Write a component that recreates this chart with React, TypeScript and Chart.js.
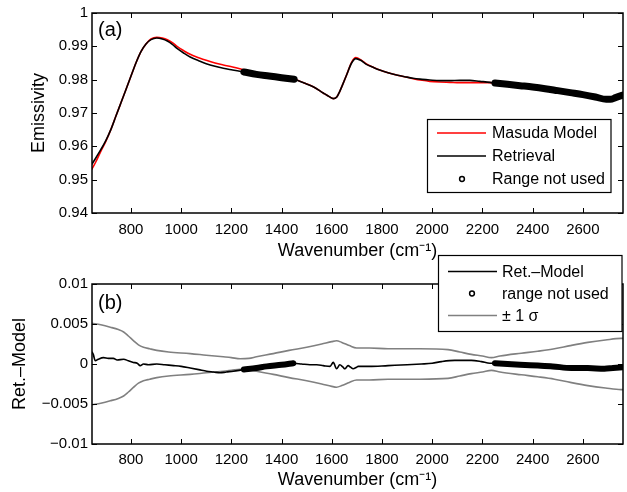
import React, { useEffect, useRef } from 'react';
import { Chart, registerables } from 'chart.js';

Chart.register(...registerables);

const FONT = '"Liberation Sans", Arial, Helvetica, sans-serif';

// ---------------- data: panel (a) ----------------
const wavenumberEmis = [645, 660, 680, 700, 720, 740, 760, 780, 800, 820, 840, 860, 880, 903, 925, 945, 965, 985, 1010, 1036, 1070, 1100, 1135, 1168, 1205, 1250, 1300, 1350, 1400, 1450, 1490, 1526, 1566, 1590, 1606, 1620, 1632, 1645, 1659, 1679, 1696, 1715, 1738, 1765, 1791, 1824, 1858, 1890, 1924, 1960, 1990, 2030, 2070, 2110, 2150, 2190, 2230, 2250, 2300, 2350, 2400, 2450, 2500, 2550, 2600, 2650, 2693, 2710, 2730, 2760];
const retrieval = [0.9547, 0.9565, 0.959, 0.9617, 0.965, 0.969, 0.973, 0.977, 0.981, 0.985, 0.9884, 0.9907, 0.992, 0.9925, 0.9922, 0.9916, 0.9906, 0.9893, 0.988, 0.9868, 0.9857, 0.9848, 0.984, 0.9834, 0.9829, 0.9823, 0.9816, 0.9811, 0.9806, 0.9801, 0.979, 0.9779, 0.976, 0.9749, 0.9743, 0.9748, 0.9765, 0.9788, 0.9814, 0.985, 0.9863, 0.9858, 0.9846, 0.9837, 0.9829, 0.9821, 0.9814, 0.9809, 0.9804, 0.9801, 0.9799, 0.9797, 0.9797, 0.9798, 0.9798, 0.9795, 0.9792, 0.979, 0.9786, 0.9782, 0.9778, 0.9773, 0.9767, 0.9761, 0.9755, 0.9748, 0.9741, 0.9741, 0.9746, 0.9754];
const masudaModel = [0.9532, 0.9553, 0.9585, 0.9615, 0.965, 0.969, 0.973, 0.977, 0.981, 0.985, 0.9884, 0.9907, 0.9922, 0.9927, 0.9925, 0.992, 0.9911, 0.9899, 0.9887, 0.9876, 0.9866, 0.9858, 0.985, 0.9844, 0.9838, 0.983, 0.9821, 0.9814, 0.9808, 0.9802, 0.979, 0.9779, 0.976, 0.9749, 0.9743, 0.9748, 0.9765, 0.9788, 0.9814, 0.9852, 0.9866, 0.986, 0.9847, 0.9837, 0.9829, 0.9821, 0.9814, 0.9809, 0.9803, 0.9798, 0.9795, 0.9793, 0.9792, 0.9791, 0.9791, 0.9791, 0.9791, 0.979, 0.9786, 0.9782, 0.9778, 0.9773, 0.9767, 0.9761, 0.9755, 0.9748, 0.9741, 0.9741, 0.9746, 0.9754];

// ---------------- data: panel (b) ----------------
const wavenumberDiff = [645, 650, 658, 670, 691, 710, 730, 745, 771, 790, 810, 825, 837, 850, 870, 903, 935, 970, 1000, 1036, 1070, 1102, 1130, 1155, 1180, 1208, 1250, 1300, 1341, 1400, 1447, 1480, 1513, 1540, 1566, 1593, 1606, 1619, 1632, 1645, 1652, 1665, 1675, 1685, 1699, 1705, 1750, 1824, 1900, 1957, 2000, 2037, 2090, 2156, 2196, 2230, 2250, 2300, 2350, 2421, 2480, 2554, 2620, 2686, 2720, 2760];
const retMinusModel = [0.0015, 0.0012, 0.0004, 0.0006, 0.0008, 0.0007, 0.0007, 0.0005, 0.0006, 0.0004, 0.0002, 0.0001, -0.0002, 0.0, -0.0001, 0.0, -0.0001, -0.0002, -0.0003, -0.0005, -0.0007, -0.0009, -0.001, -0.0011, -0.001, -0.0009, -0.0007, -0.0005, -0.0003, -0.0001, 0.0001, 0.0, -0.0001, -0.0001, -0.0002, -0.0003, 0.0002, -0.0006, -0.0001, -0.0004, -0.0006, -0.0002, -0.0004, -0.0006, -0.0004, -0.0003, -0.0003, -0.0002, -0.0001, 0.0, 0.0001, 0.0003, 0.00045, 0.00045, 0.0003, 0.0001, 0.0001, 0.0, -0.0001, -0.0002, -0.0003, -0.0005, -0.0005, -0.0006, -0.0005, -0.0004];

const wavenumberSigma = [645, 680, 718, 750, 771, 790, 811, 830, 850, 875, 903, 950, 1036, 1100, 1168, 1200, 1235, 1270, 1300, 1367, 1430, 1500, 1560, 1600, 1619, 1640, 1670, 1699, 1750, 1824, 1950, 2063, 2110, 2156, 2200, 2236, 2270, 2355, 2420, 2487, 2550, 2620, 2690, 2752, 2760];
const sigmaPlus = [0.0051, 0.0049, 0.0046, 0.0043, 0.004, 0.0035, 0.0029, 0.0024, 0.0021, 0.0019, 0.0017, 0.0015, 0.0013, 0.0011, 0.0009, 0.0008, 0.00065, 0.0007, 0.0009, 0.0013, 0.0017, 0.0021, 0.0025, 0.0028, 0.0029, 0.0027, 0.0023, 0.002, 0.002, 0.0019, 0.0019, 0.0018, 0.0015, 0.0012, 0.001, 0.0008, 0.001, 0.00135, 0.0016, 0.0019, 0.0023, 0.0027, 0.003, 0.0032, 0.0032];
const sigmaMinus = [-0.0051, -0.0049, -0.0046, -0.0043, -0.004, -0.0035, -0.0029, -0.0024, -0.0021, -0.0019, -0.0017, -0.0015, -0.0013, -0.0011, -0.0009, -0.0008, -0.00065, -0.0007, -0.0009, -0.0013, -0.0017, -0.0021, -0.0025, -0.0028, -0.0029, -0.0027, -0.0023, -0.002, -0.002, -0.0019, -0.0019, -0.0018, -0.0015, -0.0012, -0.001, -0.0008, -0.001, -0.00135, -0.0016, -0.0019, -0.0023, -0.0027, -0.003, -0.0032, -0.0032];

// spectral ranges not used in the retrieval
const notUsedRanges = [[1250, 1450], [2250, 2760]];

// ---------------- axes ----------------
const X_MIN = 645;
const X_MAX = 2760;
const xTickValues = [800, 1000, 1200, 1400, 1600, 1800, 2000, 2200, 2400, 2600];
const emisTickValues = [0.94, 0.95, 0.96, 0.97, 0.98, 0.99, 1];
const diffTickValues = [-0.01, -0.005, 0, 0.005, 0.01];

const pts = (xs: number[], ys: number[]) => xs.map((x, i) => ({ x, y: ys[i] }));
const inRange = (xs: number[], ys: number[], r: number[]) =>
  pts(xs, ys).filter((p) => p.x >= r[0] && p.x <= r[1]);

const framePlugin = {
  id: 'matlabFrame',
  afterDatasetsDraw(chart: any, _args: any, opts: any) {
    const { ctx, chartArea: a, scales } = chart;
    const xs = scales.x;
    const ys = scales.y;
    ctx.save();
    ctx.strokeStyle = '#000';
    ctx.lineWidth = 1;
    ctx.beginPath();
    xs.ticks.forEach((t: any) => {
      const px = Math.round(xs.getPixelForValue(t.value)) + 0.5;
      ctx.moveTo(px, a.bottom);
      ctx.lineTo(px, a.bottom - 5);
      ctx.moveTo(px, a.top);
      ctx.lineTo(px, a.top + 5);
    });
    ys.ticks.forEach((t: any) => {
      const py = Math.round(ys.getPixelForValue(t.value)) + 0.5;
      ctx.moveTo(a.left, py);
      ctx.lineTo(a.left + 5, py);
      ctx.moveTo(a.right, py);
      ctx.lineTo(a.right - 5, py);
    });
    ctx.stroke();
    ctx.lineWidth = 1.5;
    ctx.strokeRect(a.left, a.top, a.right - a.left, a.bottom - a.top);

    ctx.fillStyle = '#000';
    ctx.font = `20px ${FONT}`;
    ctx.textBaseline = 'middle';
    ctx.textAlign = 'left';
    ctx.fillText(opts.label, a.left + 6, opts.labelY);

    const L = opts.legend;
    ctx.fillStyle = '#fff';
    ctx.fillRect(L.x, L.y, L.w, L.h);
    ctx.lineWidth = 1.2;
    ctx.strokeStyle = '#000';
    ctx.strokeRect(L.x, L.y, L.w, L.h);
    ctx.font = `16px ${FONT}`;
    L.items.forEach((it: any, i: number) => {
      const y = L.rowY[i];
      if (it.kind === 'line') {
        ctx.strokeStyle = it.color;
        ctx.lineWidth = 1.5;
        ctx.beginPath();
        ctx.moveTo(L.lineX0, y);
        ctx.lineTo(L.lineX1, y);
        ctx.stroke();
      } else {
        ctx.strokeStyle = '#000';
        ctx.lineWidth = 1.5;
        ctx.beginPath();
        ctx.arc(L.markerX, y, 2.4, 0, Math.PI * 2);
        ctx.stroke();
      }
      ctx.fillStyle = '#000';
      ctx.fillText(it.text, L.textX, y + 1);
    });
    ctx.restore();
  },
};

function xScale(height: number, titlePadBottom: number, tickPad: number) {
  return {
    type: 'linear',
    position: 'bottom',
    min: X_MIN,
    max: X_MAX,
    grid: { display: false, drawTicks: false },
    border: { display: false },
    afterBuildTicks: (s: any) => {
      s.ticks = xTickValues.map((v) => ({ value: v }));
    },
    afterFit: (s: any) => {
      s.height = height;
    },
    ticks: {
      autoSkip: false,
      maxRotation: 0,
      padding: tickPad,
      color: '#000',
      font: { family: FONT, size: 15 },
      callback: (v: any) => String(v),
    },
    title: {
      display: true,
      text: 'Wavenumber (cm⁻¹)',
      color: '#000',
      font: { family: FONT, size: 18 },
      padding: { top: 0, bottom: titlePadBottom },
    },
  };
}

function yScale(min: number, max: number, tickValues: number[], title: string, titlePad: number, fmt: (v: number) => string) {
  return {
    type: 'linear',
    position: 'left',
    min,
    max,
    grid: { display: false, drawTicks: false },
    border: { display: false },
    afterBuildTicks: (s: any) => {
      s.ticks = tickValues.map((v) => ({ value: v }));
    },
    afterFit: (s: any) => {
      s.width = 92;
    },
    ticks: {
      autoSkip: false,
      padding: 4,
      color: '#000',
      font: { family: FONT, size: 15 },
      callback: (v: any) => fmt(Number(v)),
    },
    title: {
      display: true,
      text: title,
      color: '#000',
      font: { family: FONT, size: 18 },
      padding: { top: titlePad, bottom: 0 },
    },
  };
}

const lineDs = (label: string, data: any[], color: string, width: number, order: number) => ({
  label,
  data,
  borderColor: color,
  backgroundColor: color,
  borderWidth: width,
  pointRadius: 0,
  fill: false,
  cubicInterpolationMode: 'monotone',
  borderCapStyle: 'round',
  borderJoinStyle: 'round',
  order,
});

export default function App() {
  const topRef = useRef<HTMLCanvasElement>(null);
  const botRef = useRef<HTMLCanvasElement>(null);

  useEffect(() => {
    const fmtEmis = (v: number) => String(Math.round(v * 1000) / 1000);
    const fmtDiff = (v: number) => {
      const r = Math.round(v * 10000) / 10000;
      return r < 0 ? '\u2212' + String(Math.abs(r)) : String(r);
    };

    const topChart = new Chart(topRef.current as HTMLCanvasElement, {
      type: 'line',
      data: {
        datasets: [
          ...notUsedRanges.map((r) => lineDs('Range not used', inRange(wavenumberEmis, retrieval, r), '#000', 7, 0)),
          lineDs('Retrieval', pts(wavenumberEmis, retrieval), '#000', 1.6, 1),
          lineDs('Masuda Model', pts(wavenumberEmis, masudaModel), '#ff0000', 1.6, 2),
        ],
      } as any,
      options: {
        animation: false,
        responsive: false,
        events: [],
        layout: { padding: { left: 0, right: 4, top: 11, bottom: 0 } },
        scales: {
          x: xScale(49, 0, 8),
          y: yScale(0.94, 1, emisTickValues, 'Emissivity', 28, fmtEmis),
        } as any,
        plugins: {
          legend: { display: false },
          tooltip: { enabled: false },
          matlabFrame: {
            label: '(a)',
            labelY: 30,
            legend: {
              x: 427.5, y: 119.5, w: 183.5, h: 73,
              rowY: [133, 156, 179],
              lineX0: 437, lineX1: 486, textX: 492, markerX: 462,
              items: [
                { text: 'Masuda Model', kind: 'line', color: '#ff0000' },
                { text: 'Retrieval', kind: 'line', color: '#000' },
                { text: 'Range not used', kind: 'marker' },
              ],
            },
          },
        } as any,
      },
      plugins: [framePlugin],
    });

    const botChart = new Chart(botRef.current as HTMLCanvasElement, {
      type: 'line',
      data: {
        datasets: [
          ...notUsedRanges.map((r) => lineDs('range not used', inRange(wavenumberDiff, retMinusModel, r), '#000', 6, 0)),
          lineDs('Ret.–Model', pts(wavenumberDiff, retMinusModel), '#000', 1.6, 1),
          lineDs('+1 sigma', pts(wavenumberSigma, sigmaPlus), '#808080', 1.6, 2),
          lineDs('-1 sigma', pts(wavenumberSigma, sigmaMinus), '#808080', 1.6, 3),
        ],
      } as any,
      options: {
        animation: false,
        responsive: false,
        events: [],
        layout: { padding: { left: 0, right: 4, top: 34, bottom: 0 } },
        scales: {
          x: xScale(48, 1, 7),
          y: yScale(-0.01, 0.01, diffTickValues, 'Ret.–Model', 9, fmtDiff),
        } as any,
        plugins: {
          legend: { display: false },
          tooltip: { enabled: false },
          matlabFrame: {
            label: '(b)',
            labelY: 53,
            legend: {
              x: 438.5, y: 5.5, w: 183.5, h: 76,
              rowY: [21.5, 43.5, 65.5],
              lineX0: 448, lineX1: 497, textX: 502, markerX: 472,
              items: [
                { text: 'Ret.–Model', kind: 'line', color: '#000' },
                { text: 'range not used', kind: 'marker' },
                { text: '± 1 σ', kind: 'line', color: '#808080' },
              ],
            },
          },
        } as any,
      },
      plugins: [framePlugin],
    });

    return () => {
      topChart.destroy();
      botChart.destroy();
    };
  }, []);

  return (
    <div style={{ position: 'fixed', left: 0, top: 0, width: 627, height: 492, background: '#fff', overflow: 'hidden' }}>
      <canvas ref={topRef} width={627} height={262} style={{ position: 'absolute', left: 0, top: 0 }} />
      <canvas ref={botRef} width={627} height={242} style={{ position: 'absolute', left: 0, top: 250 }} />
    </div>
  );
}
